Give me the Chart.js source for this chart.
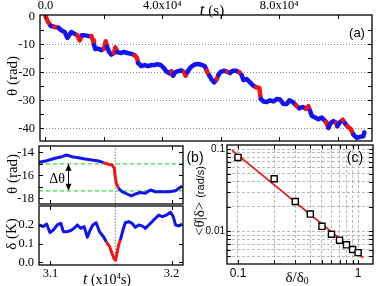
<!DOCTYPE html>
<html>
<head>
<meta charset="utf-8">
<script src="https://cdn.jsdelivr.net/npm/chart.js@4.4.0/dist/chart.umd.min.js"></script>
<style>
html, body { margin: 0; padding: 0; background: #fff; }
#wrap { position: relative; width: 388px; height: 286px; overflow: hidden; }
#wrap canvas { position: absolute; left: 0; top: 0; }
.lbl { position: absolute; white-space: nowrap; color: #000; line-height: 1; transform: translate(-50%, -50%); }
.serif { font-family: "Liberation Serif", "Times New Roman", serif; }
.sans { font-family: "Liberation Sans", Arial, sans-serif; }
.rot { transform: translate(-50%, -50%) rotate(-90deg); }
.up { font-size: 0.62em; vertical-align: 0.55em; }
.dn { font-size: 0.65em; vertical-align: -0.25em; }
</style>
</head>
<body>
<div id="wrap">
  <canvas id="cA" width="388" height="286"></canvas>
  <canvas id="cB1" width="388" height="286"></canvas>
  <canvas id="cB2" width="388" height="286"></canvas>
  <canvas id="cC" width="388" height="286"></canvas>

  <div class="lbl serif" style="left:212px;top:9px;font-size:15px"><i style="font-size:17px">t</i> (s)</div>
  <div class="lbl serif rot" style="left:12px;top:76px;font-size:15px">θ (rad)</div>
  <div class="lbl sans" style="left:357px;top:32px;font-size:13px">(a)</div>

  <div class="lbl serif rot" style="left:12px;top:174px;font-size:15px">θ (rad)</div>
  <div class="lbl serif" style="left:57px;top:179px;font-size:14px">Δθ</div>
  <div class="lbl sans" style="left:195px;top:157px;font-size:14px">(b)</div>
  <div class="lbl serif rot" style="left:11px;top:234px;font-size:15px">δ (K)</div>
  <div class="lbl serif" style="left:107px;top:279px;font-size:14px"><i style="font-size:16px">t</i> (x10<span class="up">4</span>s)</div>

  <div class="lbl sans" style="left:355px;top:157px;font-size:14px">(c)</div>
  <div class="lbl serif" style="left:297px;top:278px;font-size:15px">δ/δ<span class="dn">0</span></div>
  <div class="lbl rot" style="left:199px;top:201px"><span class="serif" style="font-size:15px">&lt;θ̇|δ&gt;</span> <span class="sans" style="font-size:11px">(rad/s)</span></div>
</div>

<script>
// ---- panel (a): angle over the whole run (t in s) ----
var tA = [0, 860, 1780, 3150, 4520, 5410, 6580, 7470, 8290, 8840,
  9760, 10890, 11710, 12500, 13430, 14560, 15690, 16270, 16610, 17060,
  17980, 19110, 20040, 20620, 21060, 21650, 22540, 23460, 23910, 24590,
  25760, 26890, 28020, 29390, 30550, 31340, 31680, 32810, 33980, 35110,
  36240, 37400, 38290, 39460, 40590, 41370, 42540, 43090, 43670, 44460,
  45380, 46510, 47440, 48020, 48570, 49390, 50180, 51100, 52230, 53360,
  54530, 55210, 56100, 56920, 57710, 58640, 59180, 60010, 61140, 62270,
  63190, 64120, 65250, 66380, 67200, 67750, 68910, 70040, 70970, 72100,
  73230, 73710, 74600, 75760, 76890, 78020, 79190, 80320, 81450, 82610,
  83500, 84670, 85800, 86930, 88090, 89220, 90010, 90590, 91170, 92300,
  93430, 94600, 95380, 96070, 96860, 97680, 98570, 99500, 99940, 100870,
  101790, 102580, 103370, 104530, 105420, 106590, 107720, 108850, 109190];
var thetaA = [0, -2.0, -3.4, -3.8, -4.1, -5.0, -5.6, -7.7, -6.5, -5.6,
  -6.1, -6.8, -8.6, -6.8, -6.8, -7.0, -7.1, -8.6, -10.3, -11.7,
  -11.5, -12.1, -11.5, -8.9, -10.8, -12.5, -13.7, -13.1, -11.1, -12.8,
  -13.1, -12.7, -13.1, -13.4, -13.9, -14.9, -16.6, -17.8, -17.4, -17.8,
  -17.4, -17.4, -17.1, -17.4, -18.5, -19.7, -20.4, -19.7, -21.2, -19.9,
  -19.6, -19.3, -19.9, -21.2, -19.9, -18.6, -17.8, -17.2, -17.0, -17.3,
  -17.8, -19.4, -21.2, -22.6, -23.6, -22.4, -21.0, -19.8, -19.4, -19.8,
  -20.2, -19.4, -19.4, -20.0, -21.0, -22.8, -22.4, -23.6, -24.6, -25.3,
  -25.6, -29.5, -30.4, -30.6, -30.0, -30.4, -29.5, -29.7, -31.3, -31.3,
  -30.0, -30.6, -31.8, -32.8, -32.4, -33.0, -32.1, -33.7, -35.5, -36.1,
  -36.7, -36.1, -37.0, -37.7, -39.8, -38.0, -37.4, -38.0, -39.2, -37.7,
  -37.0, -38.2, -39.2, -40.2, -42.2, -43.4, -43.0, -42.8, -41.4];
// 1 = the stretch leading into this point is drawn red (fast step)
var redA = [0, 1, 1, 0, 1, 0, 0, 0, 0, 0,
  0, 0, 1, 1, 0, 0, 0, 1, 1, 0,
  0, 0, 0, 1, 1, 0, 0, 0, 1, 1,
  0, 0, 0, 0, 0, 1, 1, 0, 0, 0,
  0, 0, 0, 0, 0, 0, 0, 0, 1, 0,
  0, 0, 0, 1, 1, 0, 0, 0, 0, 0,
  0, 0, 1, 0, 0, 0, 1, 0, 0, 0,
  1, 0, 0, 0, 1, 0, 0, 0, 0, 0,
  1, 1, 0, 0, 0, 0, 0, 0, 0, 0,
  0, 0, 0, 1, 0, 0, 1, 1, 0, 0,
  0, 0, 0, 0, 1, 0, 0, 0, 1, 0,
  0, 1, 0, 1, 1, 0, 0, 0, 0];
var ticksAx = [0, 20000, 40000, 60000, 80000, 100000];
var labelsAx = ['0.0', '', '4.0x10⁴', '', '8.0x10⁴', ''];
var ticksAy = [-40, -35, -30, -25, -20, -15, -10, -5, 0];
var labelsAy = ['-40', '', '-30', '', '-20', '', '-10', '', '0'];

// ---- panel (b): zoom on one jump (t in 1e4 s) ----
var tB1 = [3.0905, 3.0968, 3.1037, 3.1093, 3.1134, 3.1176, 3.1231, 3.1286, 3.1342, 3.1397,
  3.1438, 3.1480, 3.1508, 3.1527, 3.1535, 3.1544, 3.1563, 3.1591, 3.1632, 3.1668,
  3.1701, 3.1743, 3.1784, 3.1826, 3.1867, 3.1923, 3.1978, 3.2033, 3.2089];
var thetaB1 = [-14.87, -14.73, -14.52, -14.38, -14.23, -14.38, -14.47, -14.58, -14.67, -14.76,
  -14.9, -15.05, -15.1, -15.4, -16.1, -16.7, -17.13, -17.43, -17.63, -17.8,
  -17.63, -17.5, -17.57, -17.28, -17.43, -17.43, -17.43, -17.34, -16.93];
var redB1 = [0, 0, 0, 0, 0, 0, 0, 0, 0, 0,
  0, 1, 1, 1, 1, 1, 1, 0, 0, 0,
  0, 0, 0, 0, 0, 0, 0, 0, 0];
var tB2 = [3.0907, 3.0940, 3.0968, 3.0996, 3.1023, 3.1056, 3.1085, 3.1106, 3.1134, 3.1168,
  3.1195, 3.1222, 3.1251, 3.1278, 3.1305, 3.1328, 3.1350, 3.1378, 3.1405, 3.1438,
  3.1461, 3.1488, 3.1508, 3.1527, 3.1538, 3.1549, 3.1563, 3.1577, 3.1599, 3.1618,
  3.1646, 3.1674, 3.1701, 3.1729, 3.1757, 3.1784, 3.1812, 3.1840, 3.1867, 3.1895,
  3.1923, 3.1958, 3.1992, 3.2014, 3.2033, 3.2061, 3.2089];
var deltaB2 = [0.200, 0.191, 0.205, 0.159, 0.173, 0.200, 0.209, 0.164, 0.164, 0.170,
  0.182, 0.200, 0.182, 0.191, 0.134, 0.173, 0.200, 0.212, 0.164, 0.137,
  0.110, 0.084, 0.048, 0.016, 0.012, 0.048, 0.093, 0.119, 0.173, 0.212,
  0.218, 0.209, 0.187, 0.200, 0.195, 0.182, 0.200, 0.218, 0.236, 0.253,
  0.245, 0.253, 0.268, 0.245, 0.200, 0.195, 0.205];
var redB2 = [0, 0, 0, 0, 0, 0, 0, 0, 0, 0,
  0, 0, 0, 0, 0, 0, 0, 0, 0, 0,
  0, 1, 1, 1, 1, 1, 1, 1, 0, 0,
  0, 0, 0, 0, 0, 0, 0, 0, 0, 0,
  0, 0, 0, 0, 0, 0, 0];
var markT = 3.1535;               // dotted vertical line
var levelTheta = [-15.0, -17.35]; // green dashed levels
var arrowT = 3.1141;              // where the delta-theta arrow sits
var ticksBx = [3.1, 3.2];
var labelsBx = ['3.1', '3.2'];
var ticksB1y = [-18, -17, -16, -15, -14];
var labelsB1y = ['-18', '', '-16', '', '-14'];
var ticksB2y = [0, 0.1, 0.2];
var labelsB2y = ['0.0', '0.1', '0.2'];

// ---- panel (c): conditional mean rate vs delta/delta0 ----
var ratioC = [0.1, 0.2, 0.3, 0.4, 0.5, 0.6, 0.7, 0.8, 0.9, 1.0];
var rateC = [0.079, 0.0435, 0.023, 0.0162, 0.0115, 0.0092, 0.0078, 0.00684, 0.0060, 0.0055];
var fitX = [0.089, 1.1];
var fitY = [0.097, 0.00475];
var ticksCx = [0.1, 0.2, 0.3, 0.4, 0.5, 0.6, 0.7, 0.8, 0.9, 1];
var labelsCx = ['0.1', '', '', '', '', '', '', '', '', '1'];
var ticksCy = [0.005, 0.006, 0.007, 0.008, 0.009, 0.01, 0.02, 0.03, 0.04, 0.05, 0.06, 0.07, 0.08, 0.09, 0.1];
var labelsCy = ['', '', '', '', '', '0.01', '', '', '', '', '', '', '', '', '0.1'];

var W = 388, H = 286;
var SERIF = '"Liberation Serif", "Times New Roman", serif';
var SANS = '"Liberation Sans", Arial, sans-serif';
var BLUE = '#1414f0', RED = '#f01414';

function fixTicks(values) {
    return function (scale) {
        scale.ticks = values.map(function (v) { return { value: v }; });
    };
}
// fixed axis box size, so the plot box lands where it should
function fixSize(size) {
    return function (scale) {
        if (scale.isHorizontal()) { scale.height = size; } else { scale.width = size; }
    };
}
function axis(o) {
    return {
        type: o.type || 'linear',
        position: o.pos,
        min: o.min,
        max: o.max,
        afterBuildTicks: fixTicks(o.ticks),
        afterFit: fixSize(o.size),
        border: { display: false, dash: o.dash || [] },
        grid: o.grid ? { display: true, drawTicks: false, color: o.grid, lineWidth: o.gridWidth || 0.8 }
                     : { display: false, drawTicks: false },
        ticks: {
            display: !!o.labels,
            autoSkip: false,
            maxRotation: 0,
            padding: o.pad || 4,
            color: '#000',
            font: o.font,
            callback: function (v, i) { return o.labels ? o.labels[i] : ''; }
        }
    };
}
function pts(xs, ys) {
    return xs.map(function (x, i) { return { x: x, y: ys[i] }; });
}
function redSegments(flags) {
    return {
        borderColor: function (c) { return flags[c.p1DataIndex] ? RED : BLUE; }
    };
}

// black box and inward tick marks
var framePlugin = {
    id: 'frame',
    afterDraw: function (chart) {
        var a = chart.chartArea, ctx = chart.ctx;
        ctx.save();
        ctx.strokeStyle = '#000';
        ctx.lineWidth = 1;
        Object.keys(chart.scales).forEach(function (k) {
            var s = chart.scales[k];
            s.ticks.forEach(function (t) {
                var p = Math.round(s.getPixelForValue(t.value)) + 0.5;
                ctx.beginPath();
                if (s.isHorizontal()) {
                    if (p < a.left + 2 || p > a.right - 2) return;
                    ctx.moveTo(p, a.top); ctx.lineTo(p, a.top + 4);
                    ctx.moveTo(p, a.bottom); ctx.lineTo(p, a.bottom - 4);
                } else {
                    if (p < a.top + 2 || p > a.bottom - 2) return;
                    ctx.moveTo(a.left, p); ctx.lineTo(a.left + 4, p);
                    ctx.moveTo(a.right, p); ctx.lineTo(a.right - 4, p);
                }
                ctx.stroke();
            });
        });
        ctx.lineWidth = 1.3;
        ctx.strokeRect(a.left, a.top, a.right - a.left, a.bottom - a.top);
        ctx.restore();
    }
};

var arrowPlugin = {
    id: 'dtheta',
    afterDatasetsDraw: function (chart) {
        var x = Math.round(chart.scales.x.getPixelForValue(arrowT)) + 0.5;
        var y1 = chart.scales.y.getPixelForValue(levelTheta[0]);
        var y2 = chart.scales.y.getPixelForValue(levelTheta[1]);
        var ctx = chart.ctx;
        ctx.save();
        ctx.strokeStyle = '#000';
        ctx.fillStyle = '#000';
        ctx.lineWidth = 1;
        ctx.beginPath(); ctx.moveTo(x, y1 + 5); ctx.lineTo(x, y2 - 5); ctx.stroke();
        ctx.beginPath(); ctx.moveTo(x, y1); ctx.lineTo(x - 3, y1 + 7); ctx.lineTo(x + 3, y1 + 7); ctx.closePath(); ctx.fill();
        ctx.beginPath(); ctx.moveTo(x, y2); ctx.lineTo(x - 3, y2 - 7); ctx.lineTo(x + 3, y2 - 7); ctx.closePath(); ctx.fill();
        ctx.restore();
    }
};

// box = [left, top, right, bottom] of the plot area; x axis on top or bottom, y axis on the left
function makeChart(id, box, xTop, datasets, scales, extra) {
    scales.y.afterFit = fixSize(box[0]);
    scales.x.afterFit = fixSize(xTop ? box[1] : H - box[3]);
    return new Chart(document.getElementById(id), {
        type: 'line',
        data: { datasets: datasets },
        options: {
            responsive: false,
            animation: false,
            devicePixelRatio: 1,
            layout: { padding: { left: 0, top: xTop ? 0 : box[1], right: W - box[2], bottom: xTop ? H - box[3] : 0 } },
            scales: scales,
            plugins: { legend: { display: false }, tooltip: { enabled: false } }
        },
        plugins: [framePlugin].concat(extra || [])
    });
}

var fSerif = { family: SERIF, size: 12.5 };

// (a)
makeChart('cA', [40, 15, 372, 141], true, [{
    data: pts(tA, thetaA),
    borderColor: BLUE, borderWidth: 4.5, pointRadius: 0,
    borderJoinStyle: 'round', borderCapStyle: 'round',
    segment: redSegments(redA)
}], {
    x: axis({ pos: 'top', min: -1880, max: 111800, ticks: ticksAx, labels: labelsAx, font: fSerif, pad: 2 }),
    y: axis({ pos: 'left', min: -44.5, max: 0.46, ticks: ticksAy, labels: labelsAy, font: fSerif, pad: 5,
        grid: function (c) { return (c.tick && c.tick.value % 10 === 0 && c.tick.value !== 0) ? '#777' : 'rgba(0,0,0,0)'; },
        dash: [1, 2] })
});

// (b) upper: theta
var bMin = 3.0905, bMax = 3.2095;
var t1Min = -18.5, t1Max = -13.45;
makeChart('cB1', [39, 146, 183, 204], false, [{
    data: pts(tB1, thetaB1),
    borderColor: BLUE, borderWidth: 3, pointRadius: 0,
    borderJoinStyle: 'round', segment: redSegments(redB1)
}, {
    data: [{ x: bMin, y: levelTheta[0] }, { x: bMax, y: levelTheta[0] }],
    borderColor: '#38e038', borderWidth: 1.3, borderDash: [4, 3], pointRadius: 0
}, {
    data: [{ x: bMin, y: levelTheta[1] }, { x: bMax, y: levelTheta[1] }],
    borderColor: '#38e038', borderWidth: 1.3, borderDash: [4, 3], pointRadius: 0
}, {
    data: [{ x: markT, y: t1Min }, { x: markT, y: t1Max }],
    borderColor: '#777', borderWidth: 1, borderDash: [1.5, 1.5], pointRadius: 0
}], {
    x: axis({ pos: 'bottom', min: bMin, max: bMax, ticks: ticksBx, labels: null }),
    y: axis({ pos: 'left', min: t1Min, max: t1Max, ticks: ticksB1y, labels: labelsB1y, font: fSerif, pad: 5 })
}, [arrowPlugin]);

// (b) lower: delta
var d2Min = -0.0145, d2Max = 0.3016;
makeChart('cB2', [39, 206, 183, 265], false, [{
    data: pts(tB2, deltaB2),
    borderColor: BLUE, borderWidth: 3, pointRadius: 0,
    borderJoinStyle: 'round', segment: redSegments(redB2)
}, {
    data: [{ x: markT, y: d2Min }, { x: markT, y: d2Max }],
    borderColor: '#777', borderWidth: 1, borderDash: [1.5, 1.5], pointRadius: 0
}], {
    x: axis({ pos: 'bottom', min: bMin, max: bMax, ticks: ticksBx, labels: labelsBx, font: fSerif, pad: 1 }),
    y: axis({ pos: 'left', min: d2Min, max: d2Max, ticks: ticksB2y, labels: labelsB2y, font: fSerif, pad: 5 })
});

// (c) log-log
makeChart('cC', [227, 145, 373, 264], false, [{
    data: pts(ratioC, rateC),
    showLine: false,
    pointStyle: 'rect', pointRadius: 4.3,
    pointBackgroundColor: '#fff', pointBorderColor: '#000', pointBorderWidth: 1.4
}, {
    data: pts(fitX, fitY),
    borderColor: RED, borderWidth: 1.7, pointRadius: 0
}], {
    x: axis({ type: 'logarithmic', pos: 'bottom', min: 0.081, max: 1.33, ticks: ticksCx, labels: labelsCx,
        font: { family: SANS, size: 12 }, pad: 2, grid: '#aaa', dash: [3, 2] }),
    y: axis({ type: 'logarithmic', pos: 'left', min: 0.0040, max: 0.112, ticks: ticksCy, labels: labelsCy,
        font: { family: SANS, size: 10 }, pad: 2, grid: '#aaa', dash: [3, 2] })
});
</script>
</body>
</html>
